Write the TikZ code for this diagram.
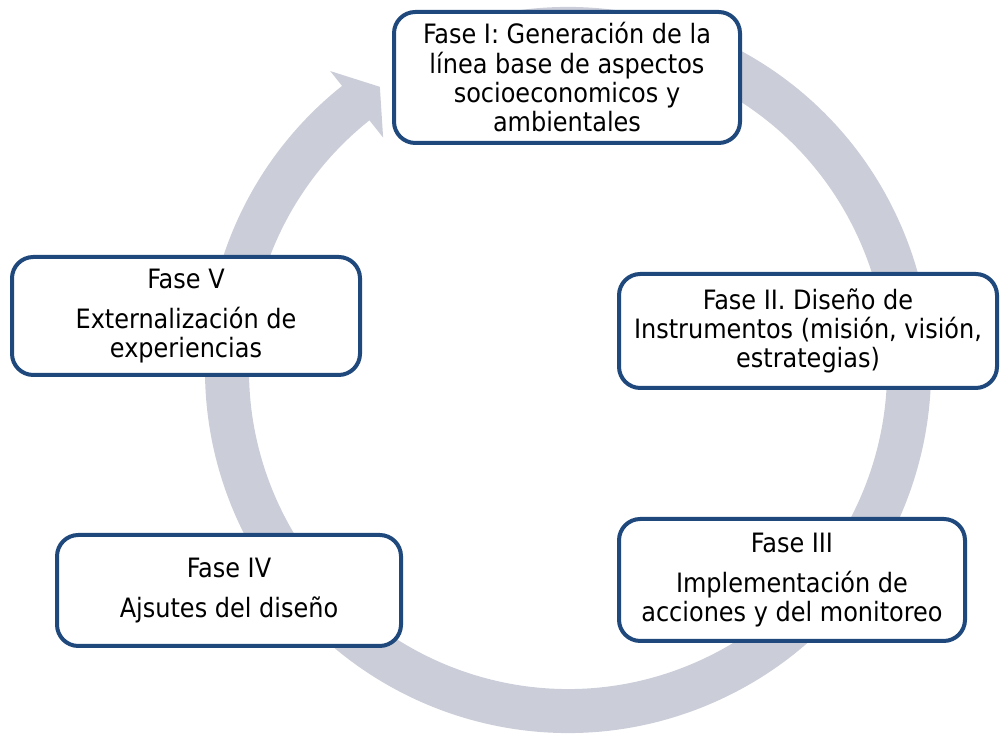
\documentclass[tikz,border=0pt]{standalone}
\usepackage{fontspec}
\setmainfont{DejaVu Sans Condensed}
\definecolor{ringgray}{RGB}{203,206,216}
\definecolor{boxblue}{RGB}{31,73,125}
\begin{document}
\begin{tikzpicture}[x=0.75pt,y=0.75pt,
  phase/.style={draw=boxblue, line width=3pt, fill=white, rounded corners=16pt,
    inner sep=0pt, align=center, text=black,
    font=\fontsize{20}{22}\selectfont},
  ring/.style={draw=ringgray, line width=33pt}]
\useasboundingbox (0,0) rectangle (1000,734);
\coordinate (c) at (568,364);
% circular arrow behind the phase boxes
\draw[ring] ([shift={(115:341)}]c) arc[start angle=115, end angle=-231.8, radius=341];
\fill[ringgray] ([shift={(128.5:382)}]c) -- ([shift={(123.6:340)}]c)
  -- ([shift={(128.5:297)}]c) -- cycle;
% phases
\node[phase, minimum width=259.5pt, minimum height=98.25pt] (f1) at (567,656.5)
  {Fase I: Generación de la\\línea base de aspectos\\socioeconomicos y\\ambientales};
\node[phase, minimum width=283.5pt, minimum height=85.5pt] (f2) at (808,403)
  {Fase II. Diseño de\\Instrumentos (misión, visión,\\estrategias)};
\node[phase, minimum width=259.5pt, minimum height=91.5pt] (f3) at (792,154)
  {Fase III\\[8pt]Implementación de\\acciones y del monitoreo};
\node[phase, minimum width=258pt, minimum height=83.25pt] (f4) at (229,143.5)
  {Fase IV\\[8pt]Ajsutes del diseño};
\node[phase, minimum width=261pt, minimum height=88.5pt] (f5) at (186,418)
  {Fase V\\[8pt]Externalización de\\experiencias};
\end{tikzpicture}
\end{document}
